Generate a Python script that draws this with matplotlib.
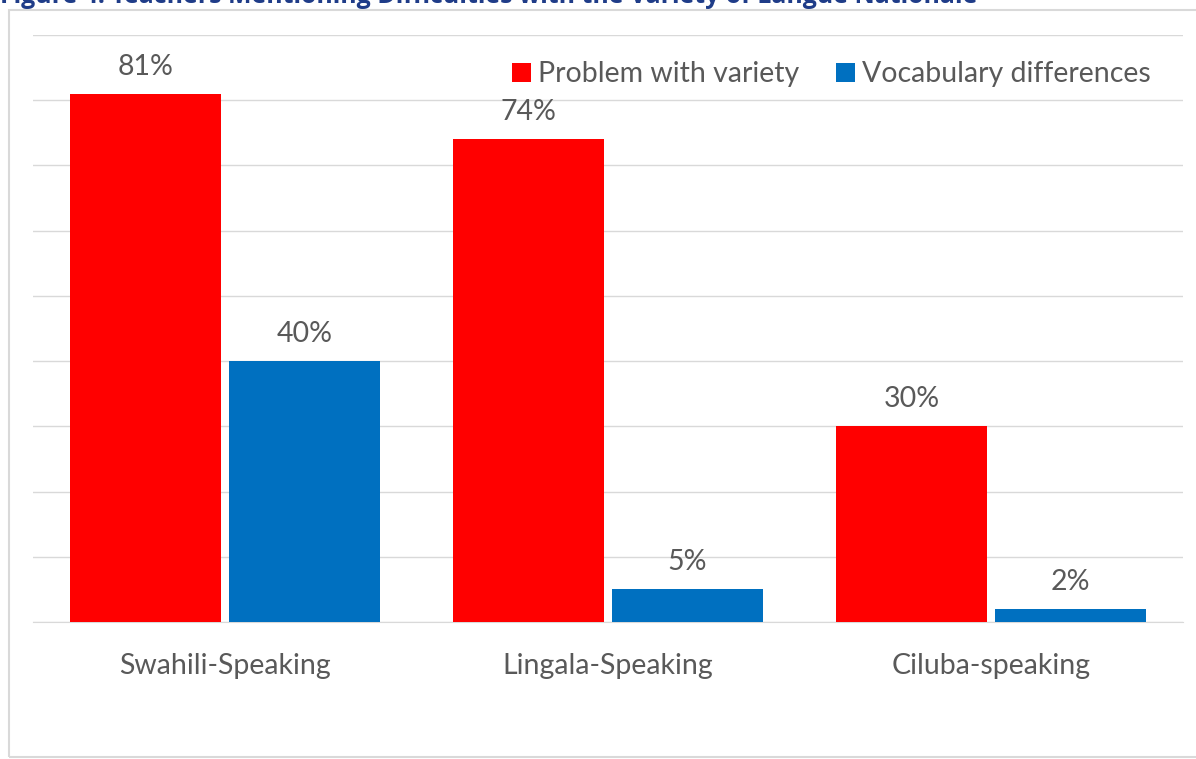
import matplotlib.pyplot as plt
from matplotlib.patches import Rectangle
import numpy as np

plt.rcParams['font.family'] = ['Lato', 'DejaVu Sans']

categories = ['Swahili-Speaking', 'Lingala-Speaking', 'Ciluba-speaking']
problem_with_variety = [81, 74, 30]
vocabulary_differences = [40, 5, 2]
series_names = ['Problem with variety', 'Vocabulary differences']
title = 'Figure 4: Teachers Mentioning Difficulties with the Variety of Langue Nationale'

red = '#ff0000'
blue = '#0070c0'
grey_text = '#595959'
grid_grey = '#d9d9d9'
fs = 20.5

W, H = 1196, 759
fig = plt.figure(figsize=(W / 100, H / 100), dpi=100)
ax = fig.add_axes([33 / W, 1 - 622 / H, 1150 / W, 587 / H])

x = np.arange(len(categories))
width = 0.394
gap = 0.021
off = width / 2 + gap / 2

b1 = ax.bar(x - off, problem_with_variety, width, color=red, label=series_names[0], zorder=3)
b2 = ax.bar(x + off, vocabulary_differences, width, color=blue, label=series_names[1], zorder=3)

for bars, vals in ((b1, problem_with_variety), (b2, vocabulary_differences)):
    for rect, v in zip(bars, vals):
        ax.annotate(f'{v}%', (rect.get_x() + rect.get_width() / 2, v),
                    xytext=(0, 10), textcoords='offset points',
                    ha='center', va='bottom', fontsize=fs, color=grey_text)

ax.set_xlim(-0.5, len(categories) - 0.5)
ax.set_ylim(0, 90)
ax.set_yticks(np.arange(0, 91, 10))
ax.yaxis.grid(True, color=grid_grey, lw=1, zorder=0)
ax.tick_params(axis='y', length=0, labelleft=False)
ax.set_xticks(x)
ax.set_xticklabels(categories, fontsize=fs, color=grey_text)
ax.tick_params(axis='x', length=0, pad=22)
for s in ('top', 'right', 'left'):
    ax.spines[s].set_visible(False)
ax.spines['bottom'].set_color(grid_grey)

leg = ax.legend(loc='upper right', bbox_to_anchor=(1162 / W, 1 - 50 / H),
                bbox_transform=fig.transFigure, ncol=2, frameon=False,
                fontsize=fs, handlelength=0.65, handleheight=0.65,
                handletextpad=0.25, columnspacing=1.3, borderaxespad=0)
for t in leg.get_texts():
    t.set_color(grey_text)

# outer chart frame (right edge runs off the page)
fig.patches.append(Rectangle((9 / W, 2 / H), 1.1, (757 - 10) / H,
                             transform=fig.transFigure, fill=False,
                             edgecolor=grid_grey, lw=1.5, clip_on=False))

# figure caption, mostly cut off at the top edge
fig.text(0, 1 - 3 / H, title, ha='left', va='baseline', fontsize=17.9,
         fontweight='bold', color='#1f3c88', family=['Open Sans', 'DejaVu Sans'])

fig.savefig('out.png', dpi=100)
